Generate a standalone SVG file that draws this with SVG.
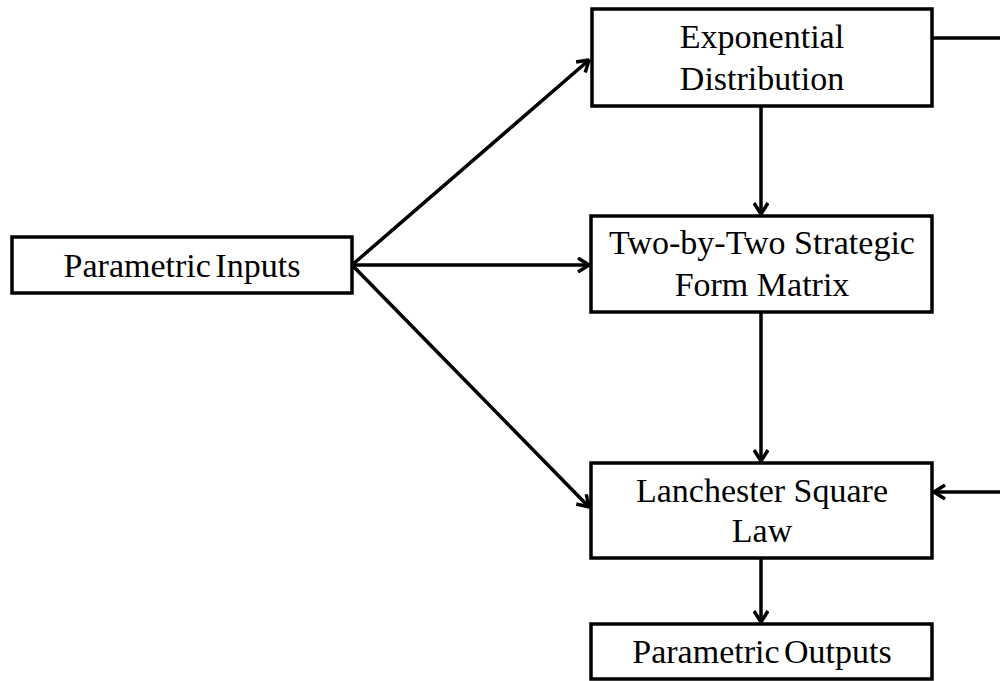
<svg xmlns="http://www.w3.org/2000/svg" width="1000" height="681" viewBox="0 0 1000 681">
<style>
.box{fill:#fff;stroke:#000;stroke-width:3.5}
.lbl{font-family:"Liberation Serif","Times New Roman",serif;font-size:34px;fill:#000;text-anchor:middle}
.edge{fill:none;stroke:#000;stroke-width:3.5}
</style>
<defs>
<marker id="arr" viewBox="0 0 14 16" refX="13" refY="8" markerWidth="14" markerHeight="16" markerUnits="userSpaceOnUse" orient="auto">
<path d="M2,1 L13,8 L2,15" fill="none" stroke="#000" stroke-width="3.5"/>
</marker>
</defs>
<rect width="1000" height="681" fill="#fff"/>
<g id="connectors">
<line class="edge" x1="352" y1="265" x2="589" y2="60" marker-end="url(#arr)"/>
<line class="edge" x1="352" y1="265" x2="589" y2="265" marker-end="url(#arr)"/>
<line class="edge" x1="352" y1="265" x2="589" y2="507" marker-end="url(#arr)"/>
<line class="edge" x1="761" y1="106" x2="761" y2="214" marker-end="url(#arr)"/>
<line class="edge" x1="761" y1="312" x2="761" y2="461" marker-end="url(#arr)"/>
<line class="edge" x1="761" y1="558" x2="761" y2="622" marker-end="url(#arr)"/>
<line class="edge" x1="932" y1="38" x2="1000" y2="38"/>
<line class="edge" x1="1000" y1="492" x2="934" y2="492" marker-end="url(#arr)"/>
</g>
<g id="node-inputs">
<rect class="box" x="12" y="237" width="340" height="56"/>
<text class="lbl" x="182" y="277" word-spacing="-4">Parametric Inputs</text>
</g>
<g id="node-exponential">
<rect class="box" x="592" y="9" width="340" height="97"/>
<text class="lbl" x="762" y="48">Exponential</text>
<text class="lbl" x="762" y="90">Distribution</text>
</g>
<g id="node-matrix">
<rect class="box" x="591" y="216" width="341" height="96"/>
<text class="lbl" x="762" y="254">Two-by-Two Strategic</text>
<text class="lbl" x="762" y="296">Form Matrix</text>
</g>
<g id="node-lanchester">
<rect class="box" x="591" y="463" width="341" height="95"/>
<text class="lbl" x="762" y="502">Lanchester Square</text>
<text class="lbl" x="762" y="542">Law</text>
</g>
<g id="node-outputs">
<rect class="box" x="591" y="624" width="341" height="55"/>
<text class="lbl" x="762" y="663" word-spacing="-4">Parametric Outputs</text>
</g>
</svg>
